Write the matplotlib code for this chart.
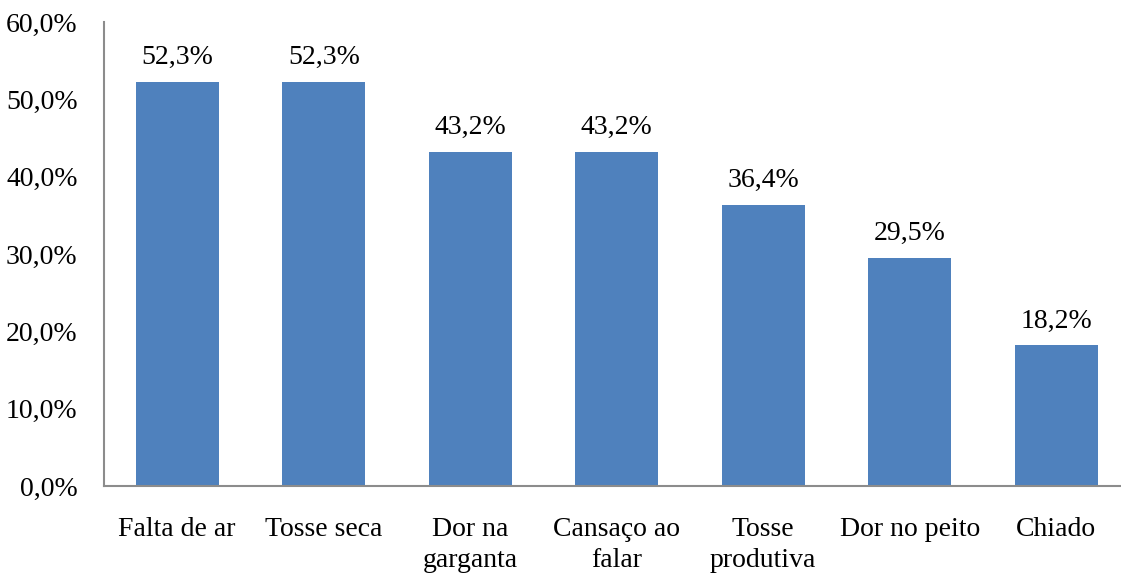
import matplotlib
matplotlib.use("Agg")
import matplotlib.pyplot as plt

categories = ["Falta de ar", "Tosse seca", "Dor na\ngarganta", "Cansaço ao\nfalar",
              "Tosse\nprodutiva", "Dor no peito", "Chiado"]
values = [52.3, 52.3, 43.2, 43.2, 36.4, 29.5, 18.2]
yticks = [0, 10, 20, 30, 40, 50, 60]

plt.rcParams['font.family'] = ['Liberation Serif', 'DejaVu Serif']

W, H = 1121, 573
FS = 20
fig = plt.figure(figsize=(W / 100, H / 100), dpi=100)
ax = fig.add_axes([104 / W, (H - 486) / H, (W - 104) / W, (486 - 22) / H])

x = list(range(len(categories)))
bars = ax.bar(x, values, width=0.567, color="#4F81BD", zorder=2)
for xi, v in zip(x, values):
    ax.annotate(f"{v:.1f}%".replace(".", ","), (xi, v), xytext=(0, 8.5),
                textcoords="offset points", ha="center", va="bottom", fontsize=FS)

ax.set_ylim(0, 60)
ax.set_xlim(-0.5, 6.5 - 8.5 / 146.5)
ax.set_yticks(yticks)
ax.set_yticklabels([f"{t:.1f}%".replace(".", ",") for t in yticks], fontsize=FS)
ax.set_xticks(x)
ax.set_xticklabels(categories, fontsize=FS, linespacing=1.32, va="top")
ax.tick_params(axis="both", length=0)
ax.tick_params(axis="y", pad=19)
ax.tick_params(axis="x", pad=22)
for s in ["top", "right"]:
    ax.spines[s].set_visible(False)
for s in ["left", "bottom"]:
    ax.spines[s].set_color("#8c8c8c")
    ax.spines[s].set_linewidth(1.5)

fig.savefig("out.png", dpi=100)
